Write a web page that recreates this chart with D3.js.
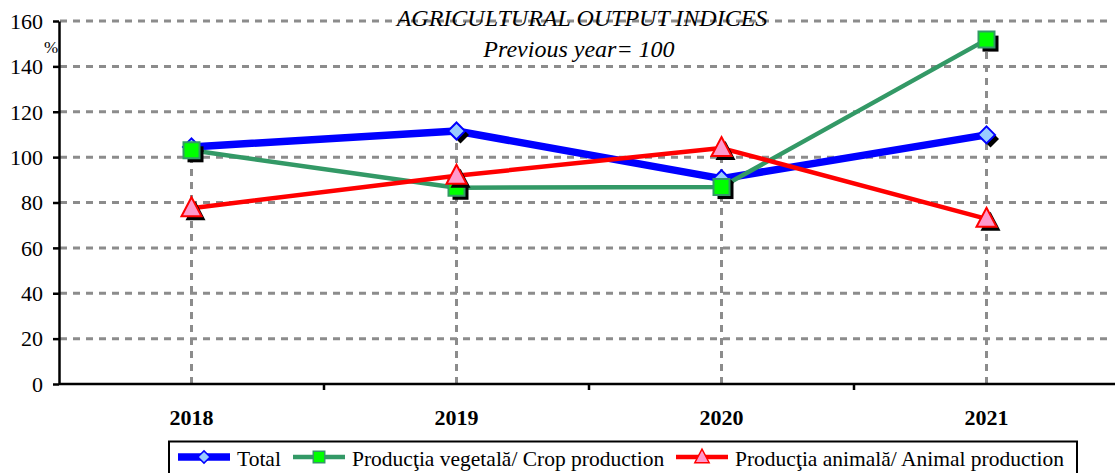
<!DOCTYPE html>
<meta charset="utf-8">
<style>
    html, body { margin: 0; background: #fff; }
    svg text { font-family: "Liberation Serif", "Times New Roman", "DejaVu Serif", serif; fill: #000; }
    .grid line { stroke: #8c8c8c; stroke-width: 3; stroke-dasharray: 7,6; }
    .axis path, .axis line { stroke: #000; stroke-width: 2.5; }
</style>
<div id="chart"></div>
<script src="https://cdn.jsdelivr.net/npm/d3@7"></script>
<script>
    // data
    var years = ["2018", "2019", "2020", "2021"];
    var total = [104.5, 111.5, 90.5, 109.8];
    var crop = [103, 86.5, 86.8, 151.8];
    var animal = [77.5, 91.8, 104, 72.8];
    var yTicks = [0, 20, 40, 60, 80, 100, 120, 140, 160];

    var series = [
        {name: "Total", values: total, color: "#0000ff", width: 7.5, marker: "diamond", fill: "#99ccff", stroke: "#0000ff"},
        {name: "Producţia vegetală/ Crop production", values: crop, color: "#339966", width: 4.5, marker: "square", fill: "#00ff00", stroke: "#339966"},
        {name: "Producţia animală/ Animal production", values: animal, color: "#ff0000", width: 4.5, marker: "triangle", fill: "#ff99cc", stroke: "#ff0000"}
    ];

    var W = 1115, H = 473;
    var svg = d3.select("#chart").append("svg")
        .attr("width", W)
        .attr("height", H);

    var x = d3.scaleBand().domain(years).range([59, 1119]);
    var y = d3.scaleLinear().domain([0, 160]).range([384, 21]);

    // horizontal grid
    svg.append("g").attr("class", "grid")
        .selectAll("line")
        .data(yTicks.filter(function(d) { return d > 0; }))
        .enter().append("line")
        .attr("x1", 60).attr("x2", 1112)
        .attr("y1", function(d) { return y(d); })
        .attr("y2", function(d) { return y(d); });

    // drop lines from highest point to axis
    svg.append("g").attr("class", "grid")
        .selectAll("line")
        .data(years)
        .enter().append("line")
        .attr("x1", function(d) { return x(d) + x.bandwidth() / 2; })
        .attr("x2", function(d) { return x(d) + x.bandwidth() / 2; })
        .attr("y1", y(0))
        .attr("y2", function(d, i) { return y(d3.max(series, function(s) { return s.values[i]; })); });

    // axes
    var yAxis = svg.append("g").attr("class", "axis")
        .attr("transform", "translate(59,0)")
        .call(d3.axisLeft(y).tickValues(yTicks).tickSize(6).tickSizeOuter(0).tickPadding(10));
    yAxis.attr("font-family", null).attr("font-size", null);
    yAxis.selectAll("text").attr("dy", "0.33em").style("font-size", "22px");

    var xAxis = svg.append("g").attr("class", "axis")
        .attr("transform", "translate(0,384)")
        .call(d3.axisBottom(x).tickSize(0).tickPadding(25));
    xAxis.attr("font-family", null).attr("font-size", null);
    xAxis.selectAll("text").style("font-weight", "bold").style("font-size", "22px");
    xAxis.select(".domain").attr("d", "M59,0H1115");
    xAxis.selectAll(".bound")
        .data(years.slice(1).concat(["end"]))
        .enter().append("line")
        .attr("class", "bound")
        .attr("x1", function(d, i) { return 59 + x.step() * (i + 1); })
        .attr("x2", function(d, i) { return 59 + x.step() * (i + 1); })
        .attr("y1", 0).attr("y2", 6);

    svg.append("text")
        .attr("x", 51).attr("y", 53)
        .attr("text-anchor", "middle")
        .style("font-size", "17px")
        .text("%");

    // titles
    svg.append("text")
        .attr("x", 582).attr("y", 26)
        .attr("text-anchor", "middle")
        .style("font-size", "24px").style("font-style", "italic")
        .text("AGRICULTURAL OUTPUT INDICES");
    svg.append("text")
        .attr("x", 579).attr("y", 57)
        .attr("text-anchor", "middle")
        .style("font-size", "24px").style("font-style", "italic")
        .text("Previous year= 100");

    function markerPath(type) {
        if (type === "diamond") return "M0,-8.5L8.5,0L0,8.5L-8.5,0Z";
        if (type === "square") return "M-8,-8H8V8H-8Z";
        return "M0,-11L10,8H-10Z";
    }

    var line = d3.line()
        .x(function(d, i) { return x(years[i]) + x.bandwidth() / 2; })
        .y(function(d) { return y(d); });

    series.forEach(function(s) {
        svg.append("path")
            .datum(s.values)
            .attr("fill", "none")
            .attr("stroke", s.color)
            .attr("stroke-width", s.width)
            .attr("stroke-linejoin", "round")
            .attr("d", line);
    });

    series.forEach(function(s) {
        var g = svg.append("g");
        // black shadow
        g.selectAll(".shadow")
            .data(s.values)
            .enter().append("path")
            .attr("class", "shadow")
            .attr("d", markerPath(s.marker))
            .attr("fill", "#000")
            .attr("transform", function(d, i) { return "translate(" + (x(years[i]) + x.bandwidth() / 2 + 4) + "," + (y(d) + 4) + ")"; });
        g.selectAll(".mark")
            .data(s.values)
            .enter().append("path")
            .attr("class", "mark")
            .attr("d", markerPath(s.marker))
            .attr("fill", s.fill)
            .attr("stroke", s.stroke)
            .attr("stroke-width", 2)
            .attr("transform", function(d, i) { return "translate(" + (x(years[i]) + x.bandwidth() / 2) + "," + y(d) + ")"; });
    });

    // legend
    var legend = svg.append("g");
    legend.append("rect")
        .attr("x", 169).attr("y", 441.5)
        .attr("width", 908).attr("height", 40)
        .attr("fill", "#fff").attr("stroke", "#000").attr("stroke-width", 2);
    var legendX = [178, 293, 676];
    series.forEach(function(s, i) {
        var lx = legendX[i], ly = 457;
        legend.append("line")
            .attr("x1", lx).attr("x2", lx + 52)
            .attr("y1", ly).attr("y2", ly)
            .attr("stroke", s.color).attr("stroke-width", s.width);
        legend.append("path")
            .attr("d", markerPath(s.marker))
            .attr("transform", "translate(" + (lx + 26) + "," + ly + ") scale(0.72)")
            .attr("fill", s.fill).attr("stroke", s.stroke).attr("stroke-width", 2);
        legend.append("text")
            .attr("x", lx + 59).attr("y", 466)
            .style("font-size", "21.5px")
            .text(s.name);
    });
</script>
